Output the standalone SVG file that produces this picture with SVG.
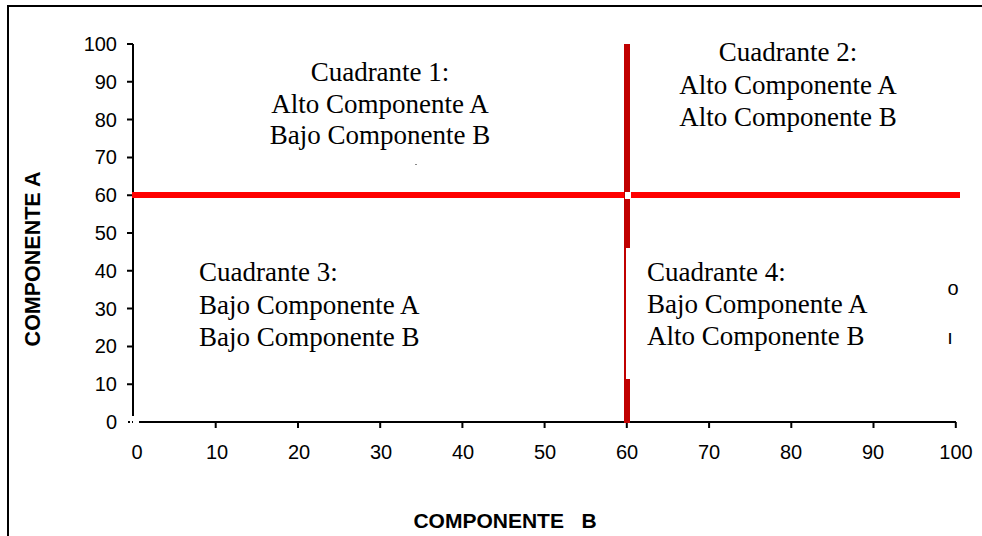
<svg xmlns="http://www.w3.org/2000/svg" width="982" height="536" viewBox="0 0 982 536">
<style>
.ax{stroke:#000;stroke-width:2;fill:none}
.tk{stroke:#000;stroke-width:2}
.num{font-family:"Liberation Sans",Arial,sans-serif;font-size:20px;fill:#000}
.ttl{font-family:"Liberation Sans",Arial,sans-serif;font-size:21px;font-weight:bold;fill:#000;white-space:pre}
.q{font-family:"Liberation Serif","Times New Roman",serif;font-size:27px;fill:#000}
</style>
<rect width="982" height="536" fill="#fff"/>
<path d="M8 536 V6 H982" class="ax"/>
<g id="axes">
<path d="M133 44 V416" class="ax"/>
<path d="M139 422 H956" class="ax"/>
<path d="M128 422 H133" stroke="#000" stroke-width="2" stroke-dasharray="2,2"/>
<g class="tk">
<path d="M127 44H133M127 81.8H133M127 119.6H133M127 157.4H133M127 195.2H133M127 233H133M127 270.8H133M127 308.6H133M127 346.4H133M127 384.2H133"/>
<path d="M215.7 422V428M298 422V428M380.2 422V428M462.4 422V428M544.6 422V428M626.8 422V428M709.1 422V428M791.3 422V428M873.5 422V428M955.8 422V428"/>
</g>
<g class="num" text-anchor="end">
<text x="117" y="51">100</text><text x="117" y="88.8">90</text><text x="117" y="126.6">80</text><text x="117" y="164.4">70</text><text x="117" y="202.2">60</text><text x="117" y="240">50</text><text x="117" y="277.8">40</text><text x="117" y="315.6">30</text><text x="117" y="353.4">20</text><text x="117" y="391.2">10</text><text x="117" y="429">0</text>
</g>
<g class="num" text-anchor="middle">
<text x="137" y="459">0</text><text x="217" y="459">10</text><text x="299" y="459">20</text><text x="381" y="459">30</text><text x="463" y="459">40</text><text x="545" y="459">50</text><text x="627" y="459">60</text><text x="709" y="459">70</text><text x="791" y="459">80</text><text x="873" y="459">90</text><text x="956" y="459">100</text>
</g>
<text class="ttl" x="505" y="528" text-anchor="middle">COMPONENTE   B</text>
<text class="ttl" transform="translate(40,259) rotate(-90)" text-anchor="middle" style="font-size:21.5px">COMPONENTE A</text>
</g>
<g id="connectors">
<path d="M132 195 H960" stroke="#ff0000" stroke-width="6"/>
<path d="M627 44 V248" stroke="#c00000" stroke-width="6"/>
<path d="M625 248 V379" stroke="#c00000" stroke-width="2"/>
<path d="M627 379 V423" stroke="#c00000" stroke-width="6"/>
<rect x="625" y="192" width="6" height="7" fill="#fff"/>
</g>
<g id="q1" class="q" text-anchor="middle">
<text x="380" y="81">Cuadrante 1:</text>
<text x="380" y="113">Alto Componente A</text>
<text x="380" y="144">Bajo Componente B</text>
</g>
<g id="q2" class="q" text-anchor="middle">
<text x="788" y="61">Cuadrante 2:</text>
<text x="788" y="94">Alto Componente A</text>
<text x="788" y="126">Alto Componente B</text>
</g>
<g id="q3" class="q">
<text x="199" y="281">Cuadrante 3:</text>
<text x="199" y="314">Bajo Componente A</text>
<text x="199" y="346">Bajo Componente B</text>
</g>
<g id="q4" class="q">
<text x="647" y="281">Cuadrante 4:</text>
<text x="647" y="313">Bajo Componente A</text>
<text x="647" y="345">Alto Componente B</text>
</g>
<g id="fragments">
<text class="num" x="953" y="295" text-anchor="middle">o</text>
<text class="num" x="950" y="344" text-anchor="middle">ı</text>
<rect x="415" y="164" width="2" height="1" fill="#888"/>
</g>
</svg>
